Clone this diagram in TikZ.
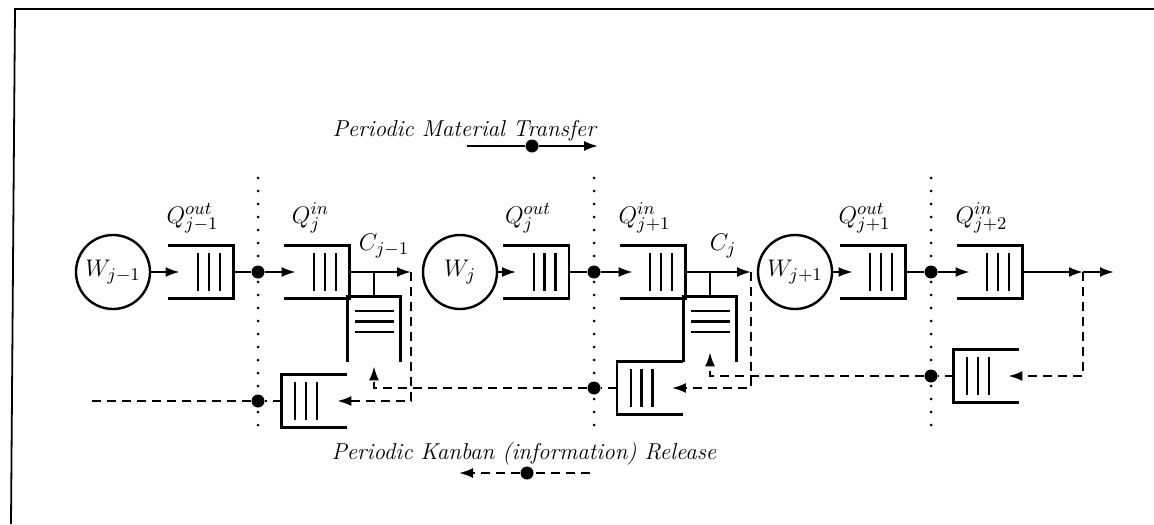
\documentclass[tikz,border=0pt]{standalone}
\usepackage{tikz}
\usetikzlibrary{arrows.meta,positioning}

\newcommand{\vbars}{\rule{1.2pt}{19pt}\hspace{4.2pt}\rule{1.2pt}{19pt}\hspace{4.2pt}\rule{1.2pt}{19pt}}
\newcommand{\hbars}{\vbox{\hrule width 19.5pt height 1.2pt\vskip 4pt\hrule width 19.5pt height 1.2pt\vskip 4pt\hrule width 19.5pt height 1.2pt}}

\begin{document}
\begin{tikzpicture}[
    x=0.5pt, y=-0.5pt,
    font=\fontsize{11.5}{14}\selectfont,
    ws/.style={circle, draw, line width=1.2pt, minimum size=37pt, inner sep=0pt, font=\fontsize{12.5}{15}\selectfont},
    queue/.style={rectangle, inner sep=0pt, minimum width=32.5pt, minimum height=26pt},
    post/.style={rectangle, inner sep=0pt, minimum width=26pt, text height=18pt, text depth=14.5pt},
    wall/.style={line width=1.2pt},
    dot/.style={circle, fill, inner sep=0pt, minimum size=6.5pt},
    flow/.style={line width=1pt, -{Latex[length=7pt,width=5pt]}},
    kline/.style={line width=1pt, dash pattern=on 4.5pt off 3pt},
    kanban/.style={kline, -{Latex[length=7pt,width=5pt]}},
    sep/.style={line width=1.5pt, line cap=round, dash pattern=on 0pt off 6.5pt},
    lab/.style={inner sep=1pt},
    qlab/.style={lab, font=\fontsize{12.5}{15}\selectfont}
]
    \useasboundingbox (0,0) rectangle (1154,524);
    % frame
    \draw[line width=0.9pt] (1154,9) -- (15,9) -- (11,524);

    % stage j-1 / j
    \node[ws] (w1) at (113,272) {$W_{j-1}$};
    \node[queue] (qout1) at (200.5,272) {\hspace*{8.5pt}\vbars};
    \node[queue] (qin1) at (316.5,272) {\hspace*{8.5pt}\vbars};
    \node[post] (post1) at (374,329.5) {\hbars};
    \node[queue] (kq1) at (314.5,401) {\vbars\hspace*{8.5pt}};
    \node[dot] (d1) at (258,272) {};
    \node[dot] (d4) at (258,401) {};
    \coordinate (c1) at (411,272);
    \coordinate (kend) at (92,401);

    % stage j / j+1
    \node[ws] (w2) at (460,272) {$W_{j}$};
    \node[queue] (qout2) at (536,272) {\hspace*{8.5pt}\vbars};
    \node[queue] (qin2) at (652.5,272) {\hspace*{8.5pt}\vbars};
    \node[post] (post2) at (710,329.5) {\hbars};
    \node[queue] (kq2) at (650,388) {\vbars\hspace*{8.5pt}};
    \node[dot] (d2) at (594,272) {};
    \node[dot] (d5) at (594,388) {};
    \coordinate (c2) at (751,272);

    % stage j+1 / j+2
    \node[ws] (w3) at (795,272) {$W_{j+1}$};
    \node[queue] (qout3) at (872.5,272) {\hspace*{8.5pt}\vbars};
    \node[queue] (qin3) at (989.5,272) {\hspace*{8.5pt}\vbars};
    \node[queue] (kq3) at (986.5,376) {\vbars\hspace*{8.5pt}};
    \node[dot] (d3) at (931,272) {};
    \node[dot] (d6) at (931,376) {};
    \coordinate (c3) at (1083,272);
    \coordinate (cend) at (1114,272);

    % queue walls
    \foreach \q in {qout1,qin1,qout2,qin2,qout3,qin3}
        \draw[wall] (\q.north west) -- (\q.north east) -- (\q.south east) -- (\q.south west);
    \foreach \q in {kq1,kq2,kq3}
        \draw[wall] (\q.north east) -- (\q.north west) -- (\q.south west) -- (\q.south east);
    \foreach \q in {post1,post2}
        \draw[wall] (\q.south west) -- (\q.north west) -- (\q.north east) -- (\q.south east);

    % labels
    \node[qlab, above=5pt of qout1, xshift=-4pt] (lqo1) {$Q_{j-1}^{out}$};
    \node[qlab, above=5pt of qin1, xshift=-3pt] (lqi1) {$Q_{j}^{in}$};
    \node[qlab] (lc1) at (384,246) {$C_{j-1}$};
    \node[qlab, above=5pt of qout2, xshift=-4pt] (lqo2) {$Q_{j}^{out}$};
    \node[qlab, above=5pt of qin2, xshift=-4pt] (lqi2) {$Q_{j+1}^{in}$};
    \node[qlab] (lc2) at (723,246) {$C_{j}$};
    \node[qlab, above=5pt of qout3, xshift=-4pt] (lqo3) {$Q_{j+1}^{out}$};
    \node[qlab, above=5pt of qin3, xshift=-4pt] (lqi3) {$Q_{j+2}^{in}$};

    % material flow
    \draw[flow] (w1) -- ([xshift=6pt]qout1.west);
    \draw[flow] (qout1.east) -- (d1) -- ([xshift=6pt]qin1.west);
    \draw[flow] (qin1.east) -- (c1);
    \draw[wall] (post1.north |- c1) -- (post1.north);
    \draw[flow] (w2) -- ([xshift=6.5pt]qout2.west);
    \draw[flow] (qout2.east) -- (d2) -- ([xshift=6.5pt]qin2.west);
    \draw[flow] (qin2.east) -- (c2);
    \draw[wall] (post2.north |- c2) -- (post2.north);
    \draw[flow] (w3) -- ([xshift=6.5pt]qout3.west);
    \draw[flow] (qout3.east) -- (d3) -- ([xshift=6.5pt]qin3.west);
    \draw[flow] (qin3.east) -- (c3);
    \draw[flow] (c3) -- (cend);

    % kanban flow
    \draw[kanban] (c1) -- (c1 |- kq1.east) -- ([xshift=-5pt]kq1.east);
    \draw[kanban] (c2) -- (c2 |- kq2.east) -- ([xshift=-5.5pt]kq2.east);
    \draw[kanban] (c3) -- (c3 |- kq3.east) -- ([xshift=-5.5pt]kq3.east);
    \draw[kanban] (kq2.west) -- (d5) -- (post1.south |- d5) -- ([yshift=-2pt]post1.south);
    \draw[kanban] (kq3.west) -- (d6) -- (post2.south |- d6) -- ([yshift=5pt]post2.south);
    \draw[kline] (kq1.west) -- (d4) -- (kend);

    % period separators
    \coordinate (septop) at (0,178);
    \coordinate (sepbot) at (0,428);
    \foreach \d in {d1,d2,d3}
        \draw[sep] (\d |- septop) -- (\d |- sepbot);

    % legend
    \node[lab] (mtext) at (465,131) {\textit{Periodic Material Transfer}};
    \node[dot] (mdot) at (532,146) {};
    \coordinate (m0) at (467,146);
    \coordinate (m1) at (598,146);
    \draw[flow] (m0) -- (mdot) -- (m1);
    \node[lab] (ktext) at (524,454) {\textit{Periodic Kanban (information) Release}};
    \node[dot] (kdot) at (527,473) {};
    \coordinate (k0) at (590,473);
    \coordinate (k1) at (459,473);
    \draw[kanban] (k0) -- (kdot) -- (k1);
\end{tikzpicture}
\end{document}
